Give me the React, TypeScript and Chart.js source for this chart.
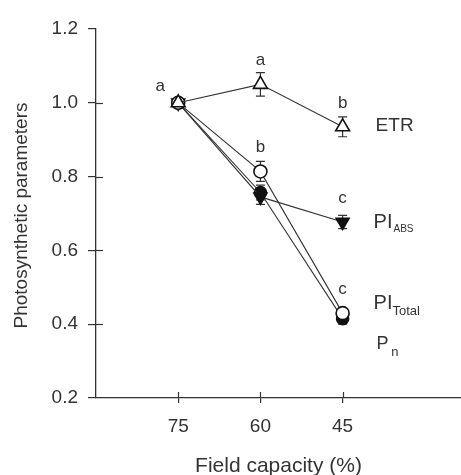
import React, { useEffect, useRef } from 'react';
import { Chart, registerables } from 'chart.js';

Chart.register(...registerables);

// ---- data ----
const fieldCapacity = [75, 60, 45];
const etr = [1.0, 1.05, 0.935];
const piTotal = [1.0, 0.814, 0.43];
const piAbs = [1.0, 0.745, 0.677];
const pn = [1.0, 0.757, 0.415];
const etrErr = [0.01, 0.032, 0.027];
const piTotalErr = [0.01, 0.027, 0.01];
const piAbsErr = [0.01, 0.02, 0.018];
const pnErr = [0.01, 0.02, 0.015];
const etrLetters = ['a', 'a', 'b'];
const piTotalLetters = ['', 'b', 'c'];
const piAbsLetters = ['', '', 'c'];
const pnLetters = ['', '', ''];
const seriesMain = ['ETR', 'PI', 'PI', 'P'];
const seriesSub = ['', 'Total', 'ABS', 'n'];
const xTicks = [75, 60, 45];
const yTicks = [0.2, 0.4, 0.6, 0.8, 1.0, 1.2];
const xTitle = 'Field capacity (%)';
const yTitle = 'Photosynthetic parameters';

const X_MIN = 23.4;
const X_MAX = 90;
const INK = '#333333';
const FONT = '"Liberation Sans", Arial, sans-serif';

// label styling per series (pixel offsets from last point, fonts)
const labelStyle = [
  { dx: 33, dy: 4, main: 19, sub: 0, subDy: 0, gap: 0 },
  { dx: 31, dy: -4, main: 20, sub: 13, subDy: 5.5, gap: 0 },
  { dx: 31, dy: 6, main: 20, sub: 10, subDy: 4, gap: 1 },
  { dx: 34, dy: 30, main: 18, sub: 13, subDy: 7, gap: 2.5 },
];

const annotate = {
  id: 'annotate',
  beforeDatasetsDraw(chart: any) {
    const ctx = chart.ctx;
    const xs = chart.scales.x;
    const ys = chart.scales.y;
    const ca = chart.chartArea;
    ctx.save();
    ctx.strokeStyle = INK;
    ctx.lineWidth = 1.2;
    // inner tick marks
    yTicks.forEach((v) => {
      if (v === 0.2 || v === 1.2) return;
      const py = Math.round(ys.getPixelForValue(v)) + 0.5;
      ctx.beginPath();
      ctx.moveTo(ca.left, py);
      ctx.lineTo(ca.left + 7, py);
      ctx.stroke();
    });
    xTicks.forEach((v) => {
      const px = Math.round(xs.getPixelForValue(v)) + 0.5;
      ctx.beginPath();
      ctx.moveTo(px, ca.bottom);
      ctx.lineTo(px, ca.bottom - 6);
      ctx.stroke();
    });
    // error bars
    chart.data.datasets.forEach((ds: any) => {
      ds.err.forEach((e: number, i: number) => {
        const px = xs.getPixelForValue(fieldCapacity[i]);
        const yTop = ys.getPixelForValue(ds.values[i] + e);
        const yBot = ys.getPixelForValue(ds.values[i] - e);
        ctx.lineWidth = 1.2;
        ctx.beginPath();
        ctx.moveTo(px, yTop);
        ctx.lineTo(px, yBot);
        ctx.moveTo(px - 4.5, yTop);
        ctx.lineTo(px + 4.5, yTop);
        ctx.moveTo(px - 4.5, yBot);
        ctx.lineTo(px + 4.5, yBot);
        ctx.stroke();
      });
    });
    ctx.restore();
  },
  afterDatasetsDraw(chart: any) {
    const ctx = chart.ctx;
    const xs = chart.scales.x;
    const ys = chart.scales.y;
    const ca = chart.chartArea;
    ctx.save();
    ctx.fillStyle = INK;
    ctx.textBaseline = 'alphabetic';
    // significance letters
    ctx.font = `17px ${FONT}`;
    ctx.textAlign = 'center';
    chart.data.datasets.forEach((ds: any) => {
      ds.letters.forEach((l: string, i: number) => {
        if (!l) return;
        const px = xs.getPixelForValue(fieldCapacity[i]);
        const py = ys.getPixelForValue(ds.values[i]);
        const dx = i === 0 ? -18 : 0;
        const dy = i === 0 ? -12 : -19;
        ctx.fillText(l, px + dx, py + dy);
      });
    });
    // series labels
    ctx.textAlign = 'left';
    chart.data.datasets.forEach((ds: any, k: number) => {
      const st = labelStyle[k];
      const last = ds.values.length - 1;
      const px = xs.getPixelForValue(fieldCapacity[last]) + st.dx;
      const py = ys.getPixelForValue(ds.values[last]) + st.dy;
      ctx.font = `${st.main}px ${FONT}`;
      ctx.fillText(seriesMain[k], px, py);
      if (seriesSub[k]) {
        const w = ctx.measureText(seriesMain[k]).width;
        ctx.font = `${st.sub}px ${FONT}`;
        ctx.fillText(seriesSub[k], px + w + st.gap, py + st.subDy);
      }
    });
    // axis titles
    ctx.textAlign = 'center';
    ctx.font = `21px ${FONT}`;
    ctx.fillText(xTitle, (ca.left + ca.right) / 2, 472);
    ctx.save();
    ctx.translate(27, (ca.top + ca.bottom) / 2 + 2);
    ctx.rotate(-Math.PI / 2);
    ctx.font = `19px ${FONT}`;
    ctx.fillText(yTitle, 0, 0);
    ctx.restore();
    ctx.restore();
  },
};

function mk(label: string, values: number[], err: number[], letters: string[], style: string, filled: boolean, radius: number, rotation: number) {
  return {
    label,
    data: values.map((v, i) => ({ x: fieldCapacity[i], y: v })),
    values,
    err,
    letters,
    borderColor: INK,
    borderWidth: 1.1,
    pointStyle: style,
    pointRadius: radius,
    pointRotation: rotation,
    pointBackgroundColor: filled ? '#111111' : '#ffffff',
    pointBorderColor: '#111111',
    pointBorderWidth: 1.6,
    fill: false,
    tension: 0,
  };
}

const isMajorX = (v: number) => xTicks.indexOf(v) >= 0;

export default function App() {
  const ref = useRef<HTMLCanvasElement>(null);
  useEffect(() => {
    if (!ref.current) return;
    const chart = new Chart(ref.current, {
      type: 'line',
      data: {
        datasets: [
          mk('ETR', etr, etrErr, etrLetters, 'triangle', false, 8, 0),
          mk('PI Total', piTotal, piTotalErr, piTotalLetters, 'circle', false, 6.5, 0),
          mk('PI ABS', piAbs, piAbsErr, piAbsLetters, 'triangle', true, 7.5, 180),
          mk('Pn', pn, pnErr, pnLetters, 'circle', true, 6, 0),
        ] as any,
      },
      options: {
        animation: false,
        responsive: false,
        devicePixelRatio: 1,
        layout: { autoPadding: false, padding: { top: 29, right: 0, left: 0, bottom: 0 } },
        plugins: { legend: { display: false }, tooltip: { enabled: false } },
        scales: {
          x: {
            type: 'linear',
            reverse: true,
            min: X_MIN,
            max: X_MAX,
            afterBuildTicks: (s: any) => { s.ticks = [X_MAX, ...xTicks, X_MIN].map((v) => ({ value: v })); },
            afterFit: (s: any) => { s.height = 77; s.paddingLeft = 0; s.paddingRight = 0; },
            grid: {
              display: true, drawOnChartArea: false, drawTicks: true, tickLength: 5, lineWidth: 1.2,
              color: (c: any) => (c.tick && isMajorX(c.tick.value) ? INK : 'rgba(0,0,0,0)'),
            },
            border: { display: true, color: INK, width: 1.3 },
            ticks: {
              color: INK, font: { size: 19, family: FONT }, padding: 12, maxRotation: 0, autoSkip: false,
              callback: (v: any) => (isMajorX(Number(v)) ? String(v) : ''),
            },
          },
          y: {
            type: 'linear',
            min: 0.2,
            max: 1.2,
            afterBuildTicks: (s: any) => { s.ticks = yTicks.map((v) => ({ value: v })); },
            afterFit: (s: any) => { s.width = 96; },
            grid: { display: true, drawOnChartArea: false, drawTicks: true, tickLength: 8, color: INK, lineWidth: 1.2 },
            border: { display: true, color: INK, width: 1.3 },
            ticks: { color: INK, font: { size: 19, family: FONT }, padding: 10, autoSkip: false, callback: (v: any) => Number(v).toFixed(1) },
          },
        },
      },
      plugins: [annotate],
    } as any);
    return () => chart.destroy();
  }, []);
  return (
    <div style={{ position: 'absolute', left: 0, top: 0, width: 461, height: 475, background: '#fff' }}>
      <canvas ref={ref} width={461} height={475} />
    </div>
  );
}
